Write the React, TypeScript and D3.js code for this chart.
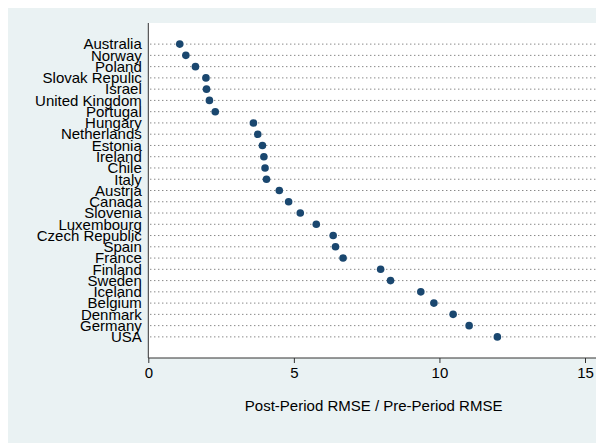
import { useEffect, useRef } from "react";
import * as d3 from "d3";

const countries = [
  "Australia", "Norway", "Poland", "Slovak Repulic", "Israel", "United Kingdom",
  "Portugal", "Hungary", "Netherlands", "Estonia", "Ireland", "Chile", "Italy",
  "Austria", "Canada", "Slovenia", "Luxembourg", "Czech Republic", "Spain",
  "France", "Finland", "Sweden", "Iceland", "Belgium", "Denmark", "Germany", "USA",
];
const ratios = [
  1.08, 1.29, 1.62, 1.98, 2.0, 2.1, 2.3, 3.61, 3.76, 3.92, 3.97, 4.01, 4.06,
  4.5, 4.82, 5.22, 5.77, 6.35, 6.43, 6.69, 7.98, 8.32, 9.36, 9.81, 10.47, 11.02, 11.99,
];
const xTicks = [0, 5, 10, 15];
const xTitle = "Post-Period RMSE / Pre-Period RMSE";

const W = 596;
const H = 435;
const plot = { left: 140.3, right: 591, top: 15, bottom: 350 };
const font = "'Liberation Sans', Arial, Helvetica, sans-serif";

const App = () => {
  const svgRef = useRef<SVGSVGElement>(null);

  useEffect(() => {
    const svg = d3.select(svgRef.current);
    svg.selectAll("*").remove();

    const x = d3.scaleLinear().domain([0, 15]).range([plot.left, plot.left + 436.7]);
    const y = d3.scalePoint<string>().domain(countries).range([plot.top, plot.bottom]).padding(1.875);

    svg.append("rect").attr("width", W).attr("height", H).attr("fill", "#eaf2f3");
    svg.append("rect")
      .attr("x", plot.left).attr("y", plot.top)
      .attr("width", plot.right - plot.left).attr("height", plot.bottom - plot.top)
      .attr("fill", "#fff");

    // dotted guide lines
    svg.append("g").selectAll("line")
      .data(countries)
      .join("line")
      .attr("x1", plot.left + 2)
      .attr("x2", plot.right - 1)
      .attr("y1", (d) => y(d)!)
      .attr("y2", (d) => y(d)!)
      .attr("stroke", "#555")
      .attr("stroke-width", 1)
      .attr("stroke-dasharray", "1,3");

    // country labels
    svg.append("g").selectAll("text")
      .data(countries)
      .join("text")
      .attr("x", plot.left - 6.5)
      .attr("y", (d) => y(d)! + 5.3)
      .attr("text-anchor", "end")
      .attr("font-family", font)
      .attr("font-size", 15)
      .attr("fill", "#000")
      .text((d) => d);

    // x axis
    const xAxis = d3.axisBottom(x).tickValues(xTicks).tickSize(5).tickPadding(4);
    const gx = svg.append("g")
      .attr("transform", `translate(0,${plot.bottom})`)
      .call(xAxis);
    gx.select(".domain").remove();
    gx.selectAll(".tick line").attr("stroke", "#333");
    gx.selectAll(".tick text")
      .attr("font-family", font)
      .attr("font-size", 15)
      .attr("fill", "#000");
    svg.append("line")
      .attr("x1", plot.left).attr("x2", plot.right)
      .attr("y1", plot.bottom).attr("y2", plot.bottom)
      .attr("stroke", "#333");
    svg.append("line")
      .attr("x1", plot.left).attr("x2", plot.left)
      .attr("y1", plot.top).attr("y2", plot.bottom)
      .attr("stroke", "#333");

    // markers
    svg.append("g").selectAll("circle")
      .data(ratios)
      .join("circle")
      .attr("cx", (d) => x(d))
      .attr("cy", (d, i) => y(countries[i])!)
      .attr("r", 3.8)
      .attr("fill", "#1a476f");

    svg.append("text")
      .attr("x", (plot.left + plot.right) / 2)
      .attr("y", 402.5)
      .attr("text-anchor", "middle")
      .attr("font-family", font)
      .attr("font-size", 15)
      .attr("fill", "#000")
      .text(xTitle);
  }, []);

  return <svg ref={svgRef} width={W} height={H} style={{ display: "block" }} />;
};

export default App;
